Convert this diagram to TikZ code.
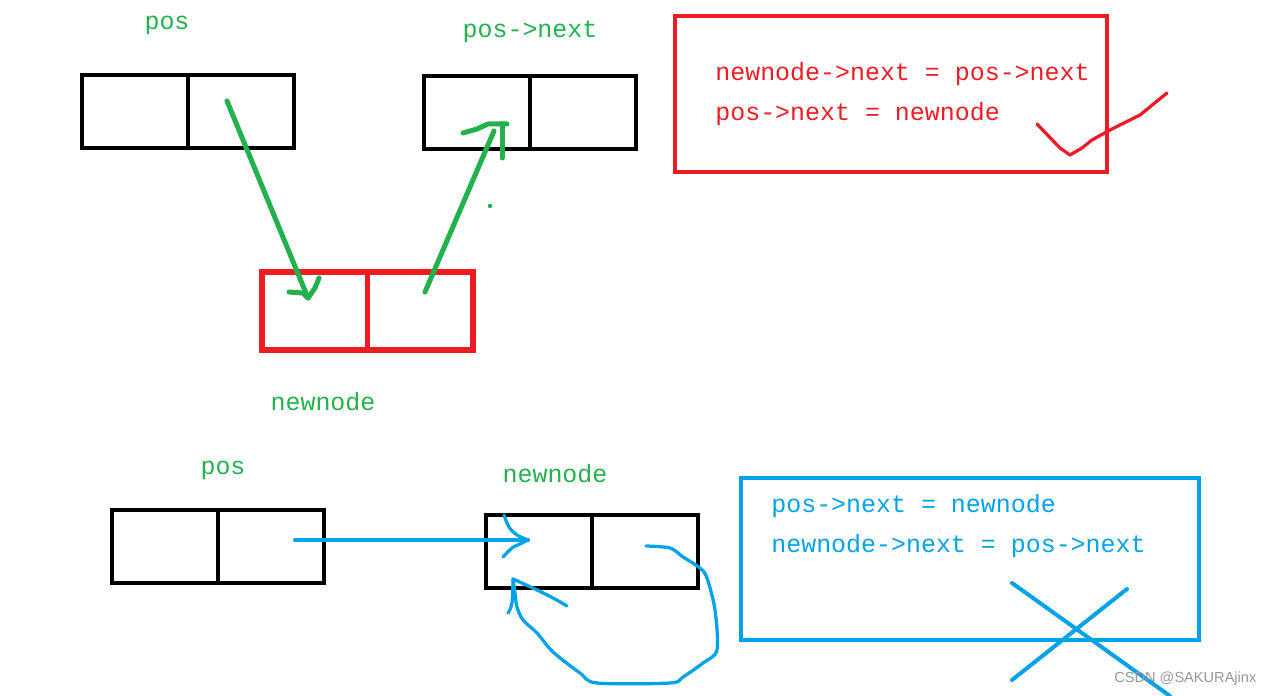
\documentclass[tikz,border=0pt]{standalone}
\usepackage{fontspec}
\setmainfont{Liberation Mono}
\setsansfont{Liberation Sans}
\usepackage{tikz}
\usetikzlibrary{positioning}
\definecolor{pGreen}{RGB}{34,177,76}
\definecolor{pRed}{RGB}{237,28,36}
\definecolor{pBlue}{RGB}{0,162,232}
\definecolor{pGray}{RGB}{150,150,150}
\tikzset{
  cell/.style={rectangle, draw=black, line width=0.08cm, inner sep=0pt, outer sep=0pt,
               minimum width=2.12cm, minimum height=1.46cm},
  rcell/.style={cell, draw=pRed, line width=0.11cm, minimum width=2.11cm, minimum height=1.56cm},
  lbl/.style={font=\fontsize{14.2}{17}\selectfont, inner sep=0pt},
  codeln/.style={lbl, anchor=west},
  frame/.style={line width=0.08cm},
  pen/.style={line width=0.1cm, line cap=round, line join=round},
  thinpen/.style={line width=0.065cm, line cap=round, line join=round},
}

\begin{document}
\begin{tikzpicture}[x=0.02cm, y=-0.02cm]
  \useasboundingbox (0,0) rectangle (1272,696);

  % upper list: pos, pos->next and the new node
  \node[cell, anchor=north west] (posL) at (82,75) {};
  \node[cell, right=0pt of posL] (posR) {};
  \node[cell, anchor=north west] (nxtL) at (424,76) {};
  \node[cell, right=0pt of nxtL] (nxtR) {};
  \node[rcell, anchor=north west] (newL) at (262,272) {};
  \node[rcell, right=0pt of newL] (newR) {};

  \node[lbl, text=pGreen] (lpos)  at (167,25)  {pos};
  \node[lbl, text=pGreen] (lnxt)  at (530,32)  {pos->next};
  \node[lbl, text=pGreen] (lnew)  at (323,402) {newnode};

  % right order (red box)
  \draw[frame, pRed] (675,16) rectangle (1107,172);
  \node[codeln, text=pRed] (r1) at (715,74)  {newnode->next = pos->next};
  \node[codeln, text=pRed] (r2) at (715,114) {pos->next = newnode};
  \draw[thinpen, pRed] (1037,124) -- (1060,148) -- (1070,155) -- (1082,148)
       -- (1092,140) -- (1110,130) -- (1140,115) -- (1167,93);

  % green pointers
  \coordinate (g1s) at (227,101);
  \coordinate (g1e) at (308,298);
  \draw[pen, pGreen] (g1s) -- (g1e);
  \draw[pen, pGreen] (289,292) -- (303,293) -- (g1e) -- (315,288) -- (319,278);
  \coordinate (g2s) at (425,292);
  \coordinate (g2e) at (494,131);
  \draw[pen, pGreen] (g2s) -- (g2e);
  \draw[pen, pGreen] (463,133) -- (477,129) -- (488,124) -- (507,124);
  \draw[pen, pGreen] (502,124) -- (502,158);
  \fill[pGreen] (490,206) circle (2.2);

  % lower list: wrong order
  \node[cell, anchor=north west] (bposL) at (112,510) {};
  \node[cell, right=0pt of bposL] (bposR) {};
  \node[cell, anchor=north west] (bnewL) at (486,515) {};
  \node[cell, right=0pt of bnewL] (bnewR) {};

  \node[lbl, text=pGreen] (lbpos) at (223,470) {pos};
  \node[lbl, text=pGreen] (lbnew) at (555,474) {newnode};

  \draw[frame, pBlue] (741,478) rectangle (1199,640);
  \node[codeln, text=pBlue] (b1) at (771,506) {pos->next = newnode};
  \node[codeln, text=pBlue] (b2) at (771,546) {newnode->next = pos->next};

  % blue pointers
  \coordinate (b1s) at (295,540);
  \coordinate (b1e) at (528,540);
  \draw[pen, pBlue, line width=0.08cm] (b1s) -- (b1e);
  \draw[thinpen, pBlue] plot[smooth, tension=0.6] coordinates
       {(504,515) (509,527) (517,535) (b1e)};
  \draw[thinpen, pBlue] plot[smooth, tension=0.6] coordinates
       {(b1e) (520,544) (512,548) (503,557)};
  \coordinate (loopS) at (646,546);
  \coordinate (loopE) at (513,579);
  \draw[thinpen, pBlue] plot[smooth, tension=0.5] coordinates
       {(loopS) (670,548) (683,557) (700,568) (707,578) (715,610) (717,650)
        (703,663) (683,677) (670,683) (597,683) (580,673) (553,652) (537,633)
        (523,620) (517,607) (515,593) (loopE)};
  \draw[thinpen, pBlue] plot[smooth, tension=0.6] coordinates
       {(loopE) (537,590) (553,598) (567,606)};
  \draw[thinpen, pBlue] plot[smooth, tension=0.6] coordinates
       {(loopE) (512,603) (508,613)};

  % cross
  \draw[pen, pBlue, line width=0.08cm] (1012,583) -- (1170,696);
  \draw[pen, pBlue, line width=0.08cm] (1127,589) -- (1012,680);

  \node[font=\sffamily\fontsize{8.3}{10}\selectfont, text=pGray, anchor=west, inner sep=0pt]
       (mark) at (1114,679) {CSDN @SAKURAjinx};
\end{tikzpicture}
\end{document}
